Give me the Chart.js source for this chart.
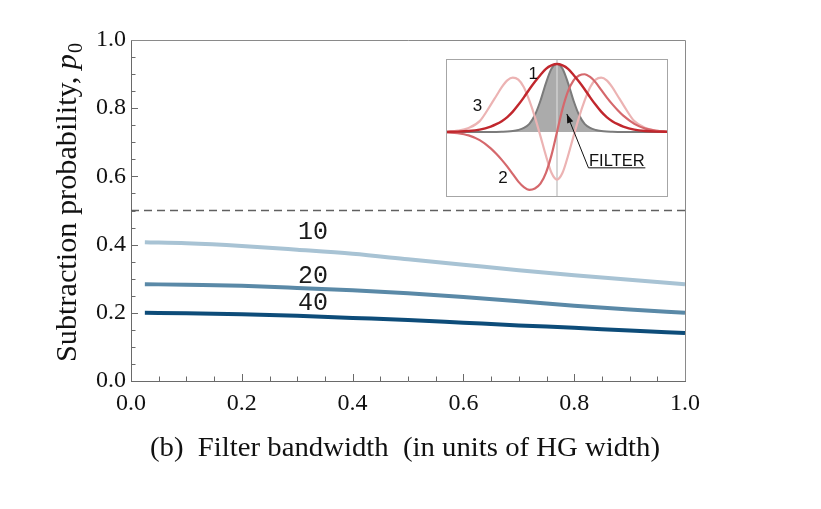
<!DOCTYPE html>
<html><head><meta charset="utf-8">
<script src="https://cdn.jsdelivr.net/npm/chart.js@4.4.0/dist/chart.umd.min.js"></script>
<style>
html,body{margin:0;padding:0;background:#fff;}
#wrap{position:relative;width:821px;height:509px;overflow:hidden;}
#main{position:absolute;left:0;top:0;}
#inset{position:absolute;left:446px;top:59px;}
</style></head><body>
<div id="wrap"><canvas id="main" width="821" height="509"></canvas><canvas id="inset" width="222" height="138"></canvas></div>
<script>
// ---------- main chart data ----------
const bandwidth = [0.025, 0.1, 0.2, 0.3, 0.4, 0.5, 0.6, 0.7, 0.8, 0.9, 1.0];
const p10 = [0.407, 0.404, 0.396, 0.385, 0.373, 0.357, 0.341, 0.325, 0.310, 0.297, 0.284];
const p20 = [0.284, 0.282, 0.279, 0.273, 0.266, 0.257, 0.246, 0.234, 0.221, 0.210, 0.200];
const p40 = [0.200, 0.199, 0.196, 0.191, 0.185, 0.179, 0.171, 0.163, 0.156, 0.148, 0.141];
const seriesNames = ['10', '20', '40'];
const halfLevel = [0.5, 0.5];
const halfLevelX = [0, 1];
const xTickValues = [0, 0.2, 0.4, 0.6, 0.8, 1.0];
const yTickValues = [0, 0.2, 0.4, 0.6, 0.8, 1.0];
const xTitle = '(b)  Filter bandwidth  (in units of HG width)';
const yTitle = 'Subtraction probability, ';
const yTitleSymbol = 'p';
const yTitleSub = '0';

// ---------- inset data ----------
const insetX = [-1,-0.9,-0.8,-0.7,-0.6,-0.55,-0.5,-0.45,-0.4,-0.35,-0.3,-0.25,-0.2,-0.15,-0.1,-0.05,0,0.05,0.1,0.15,0.2,0.25,0.3,0.35,0.4,0.45,0.5,0.55,0.6,0.7,0.8,0.9,1];
const mode1 = [0.002,0.005,0.014,0.035,0.08,0.115,0.16,0.22,0.30,0.40,0.51,0.63,0.74,0.84,0.93,0.98,1.0,0.98,0.93,0.84,0.74,0.63,0.51,0.40,0.30,0.22,0.16,0.115,0.08,0.035,0.014,0.005,0.002];
const mode2 = [-0.005,-0.018,-0.05,-0.12,-0.24,-0.32,-0.41,-0.51,-0.62,-0.73,-0.81,-0.85,-0.83,-0.76,-0.60,-0.34,0,0.34,0.60,0.76,0.83,0.85,0.81,0.73,0.62,0.51,0.41,0.32,0.24,0.12,0.05,0.018,0.005];
const mode3 = [0.005,0.02,0.06,0.16,0.40,0.53,0.66,0.76,0.80,0.77,0.66,0.46,0.22,-0.06,-0.35,-0.60,-0.70,-0.60,-0.35,-0.06,0.22,0.46,0.66,0.77,0.80,0.76,0.66,0.53,0.40,0.16,0.06,0.02,0.005];
const filterShape = [0,0,0,0,0,0.001,0.003,0.006,0.014,0.03,0.06,0.12,0.25,0.46,0.72,0.93,1.0,0.93,0.72,0.46,0.25,0.12,0.06,0.03,0.014,0.006,0.003,0.001,0,0,0,0,0];
const modeNames = ['1', '2', '3'];
const filterName = 'FILTER';

const pts = (xs, ys) => xs.map((x, i) => ({x: x, y: ys[i]}));

// ---------- main chart ----------
const curveLabelPlugin = {
  id: 'mainDecor',
  beforeDraw(chart) {
    const c = chart.ctx;
    c.save(); c.fillStyle = '#fff'; c.fillRect(0, 0, chart.width, chart.height); c.restore();
  },
  afterDraw(chart) {
    const c = chart.ctx, a = chart.chartArea, xs = chart.scales.x, ys = chart.scales.y;
    c.save();
    // frame top/right
    c.strokeStyle = '#8a8a8a'; c.lineWidth = 1;
    c.beginPath();
    c.moveTo(a.left, a.top + 0.5); c.lineTo(a.right + 0.5, a.top + 0.5); c.lineTo(a.right + 0.5, a.bottom);
    c.stroke();
    // inward ticks
    c.strokeStyle = '#6a6a6a';
    for (let k = 1; k < 20; k++) {
      const v = k * 0.05, major = (k % 4 === 0), len = major ? 7 : 4.5;
      const px = Math.round(xs.getPixelForValue(v)) + 0.5;
      c.beginPath(); c.moveTo(px, a.bottom); c.lineTo(px, a.bottom - len); c.stroke();
      const py = Math.round(ys.getPixelForValue(v)) + 0.5;
      c.beginPath(); c.moveTo(a.left, py); c.lineTo(a.left + len, py); c.stroke();
    }
    // curve labels
    const lab = chart.options.plugins.mainDecor;
    c.fillStyle = '#1a1a1a';
    c.font = '25px "Liberation Mono", "DejaVu Sans Mono", monospace';
    c.textAlign = 'center'; c.textBaseline = 'middle';
    seriesNames.forEach((n, i) => {
      c.fillText(n, xs.getPixelForValue(lab.labelX), ys.getPixelForValue(lab.labelY[i]));
    });
    // x title
    c.fillStyle = '#111';
    c.font = '27px "Liberation Serif", "Times New Roman", serif';
    c.textAlign = 'left'; c.textBaseline = 'alphabetic';
    const w = c.measureText(xTitle).width;
    const sx = lab.xTitleWidth / w;
    c.save();
    c.translate(lab.xTitleCenter - lab.xTitleWidth / 2, lab.xTitleBaseline);
    c.scale(sx, 1);
    c.fillText(xTitle, 0, 0);
    c.restore();
    // y title (rotated)
    const fMain = '30px "Liberation Serif", "Times New Roman", serif';
    const fIt = 'italic 30px "Liberation Serif", "Times New Roman", serif';
    const fSub = '20px "Liberation Serif", "Times New Roman", serif';
    c.font = fMain; const w1 = c.measureText(yTitle).width;
    c.font = fIt; const w2 = c.measureText(yTitleSymbol).width;
    c.font = fSub; const w3 = c.measureText(yTitleSub).width;
    const tw = w1 + w2 + w3;
    const sy = lab.yTitleLength / tw;
    c.save();
    c.translate(lab.yTitleBaseline, lab.yTitleCenter);
    c.rotate(-Math.PI / 2);
    c.scale(sy, 1);
    let x0 = -tw / 2;
    c.font = fMain; c.fillText(yTitle, x0, 0); x0 += w1;
    c.font = fIt; c.fillText(yTitleSymbol, x0, 0); x0 += w2;
    c.font = fSub; c.fillText(yTitleSub, x0 + 1, 6);
    c.restore();
    c.restore();
  }
};

const tickFont = {family: '"Liberation Serif", "Times New Roman", serif', size: 24};

new Chart(document.getElementById('main'), {
  type: 'scatter',
  data: {
    datasets: [
      {label: seriesNames[0], data: pts(bandwidth, p10), showLine: true, borderColor: '#a8c3d4', borderWidth: 4, pointRadius: 0, cubicInterpolationMode: 'monotone', borderCapStyle: 'butt'},
      {label: seriesNames[1], data: pts(bandwidth, p20), showLine: true, borderColor: '#5a89a7', borderWidth: 4, pointRadius: 0, cubicInterpolationMode: 'monotone', borderCapStyle: 'butt'},
      {label: seriesNames[2], data: pts(bandwidth, p40), showLine: true, borderColor: '#0d4c79', borderWidth: 4, pointRadius: 0, cubicInterpolationMode: 'monotone', borderCapStyle: 'butt'},
      {label: 'half', data: pts(halfLevelX, halfLevel), showLine: true, borderColor: '#606060', borderWidth: 1.3, borderDash: [8, 5], pointRadius: 0}
    ]
  },
  options: {
    responsive: false, animation: false, devicePixelRatio: 1,
    layout: {padding: {left: 0, right: 136, top: 40, bottom: 0}},
    plugins: {
      legend: {display: false}, tooltip: {enabled: false},
      mainDecor: {labelX: 0.3285, labelY: [0.437, 0.308, 0.229],
        xTitleCenter: 405, xTitleWidth: 510, xTitleBaseline: 456,
        yTitleCenter: 203, yTitleLength: 318, yTitleBaseline: 76}
    },
    scales: {
      x: {type: 'linear', min: 0, max: 1,
        afterBuildTicks: s => { s.ticks = xTickValues.map(v => ({value: v})); },
        grid: {display: false, drawTicks: false},
        border: {display: true, color: '#6a6a6a', width: 1},
        ticks: {padding: 8, color: '#111', font: tickFont, maxRotation: 0, callback: v => Number(v).toFixed(1)},
        afterFit: s => { s.height = 128; }},
      y: {type: 'linear', min: 0, max: 1,
        afterBuildTicks: s => { s.ticks = yTickValues.map(v => ({value: v})); },
        grid: {display: false, drawTicks: false},
        border: {display: true, color: '#6a6a6a', width: 1},
        ticks: {padding: 5, color: '#111', font: tickFont, callback: v => Number(v).toFixed(1)},
        afterFit: s => { s.width = 131; }}
    }
  },
  plugins: [curveLabelPlugin]
});

// ---------- inset chart ----------
const insetPlugin = {
  id: 'insetDecor',
  beforeDraw(chart) {
    const c = chart.ctx;
    c.save(); c.fillStyle = '#fff'; c.fillRect(0, 0, chart.width, chart.height); c.restore();
  },
  afterDraw(chart) {
    const c = chart.ctx, xs = chart.scales.x, ys = chart.scales.y, o = chart.options.plugins.insetDecor;
    c.save();
    c.strokeStyle = '#a6a6a6'; c.lineWidth = 1;
    c.strokeRect(0.5, 0.5, chart.width - 1, chart.height - 1);
    c.fillStyle = '#111';
    c.font = '17px "Liberation Sans", Arial, sans-serif';
    c.textAlign = 'center'; c.textBaseline = 'middle';
    modeNames.forEach((n, i) => c.fillText(n, xs.getPixelForValue(o.labelX[i]), ys.getPixelForValue(o.labelY[i])));
    // FILTER label with leader and arrow
    const tx = xs.getPixelForValue(o.tip[0]), ty = ys.getPixelForValue(o.tip[1]);
    const cx = xs.getPixelForValue(o.corner[0]), cy = ys.getPixelForValue(o.corner[1]);
    const ex = xs.getPixelForValue(o.end);
    c.strokeStyle = '#111'; c.lineWidth = 1;
    c.beginPath(); c.moveTo(tx, ty); c.lineTo(cx, cy); c.lineTo(ex, cy); c.stroke();
    const ang = Math.atan2(ty - cy, tx - cx), hl = 9, hw = 3.2;
    c.beginPath();
    c.moveTo(tx, ty);
    c.lineTo(tx - hl * Math.cos(ang) + hw * Math.sin(ang), ty - hl * Math.sin(ang) - hw * Math.cos(ang));
    c.lineTo(tx - hl * Math.cos(ang) - hw * Math.sin(ang), ty - hl * Math.sin(ang) + hw * Math.cos(ang));
    c.closePath(); c.fill();
    c.font = '16.5px "Liberation Sans", Arial, sans-serif';
    c.textAlign = 'left'; c.textBaseline = 'alphabetic';
    c.fillText(filterName, cx + 0.5, cy - 2);
    c.restore();
  }
};

new Chart(document.getElementById('inset'), {
  type: 'scatter',
  data: {
    datasets: [
      {label: 'mode 1', data: pts(insetX, mode1), showLine: true, borderColor: '#c1272d', borderWidth: 2.4, pointRadius: 0, cubicInterpolationMode: 'monotone'},
      {label: 'mode 2', data: pts(insetX, mode2), showLine: true, borderColor: '#d5686c', borderWidth: 2.2, pointRadius: 0, cubicInterpolationMode: 'monotone'},
      {label: 'mode 3', data: pts(insetX, mode3), showLine: true, borderColor: '#ecb3b3', borderWidth: 2.2, pointRadius: 0, cubicInterpolationMode: 'monotone'},
      {label: 'axis', data: [{x: 0, y: -1.2}, {x: 0, y: 1.2}], showLine: true, borderColor: '#cdcdcd', borderWidth: 1.6, pointRadius: 0},
      {label: 'filter', data: pts(insetX, filterShape), showLine: true, borderColor: '#7b7b7b', backgroundColor: '#ababab', fill: 'origin', borderWidth: 2, pointRadius: 0, cubicInterpolationMode: 'monotone'}
    ]
  },
  options: {
    responsive: false, animation: false, devicePixelRatio: 1,
    layout: {padding: 0},
    plugins: {
      legend: {display: false}, tooltip: {enabled: false},
      insetDecor: {labelX: [-0.215, -0.49, -0.72], labelY: [0.85, -0.68, 0.385],
        tip: [0.089, 0.265], corner: [0.285, -0.527], end: 0.80}
    },
    scales: {
      x: {type: 'linear', min: -1.005, max: 1.005, display: false},
      y: {type: 'linear', min: -0.956, max: 1.074, display: false}
    }
  },
  plugins: [insetPlugin]
});
</script>
</body></html>
